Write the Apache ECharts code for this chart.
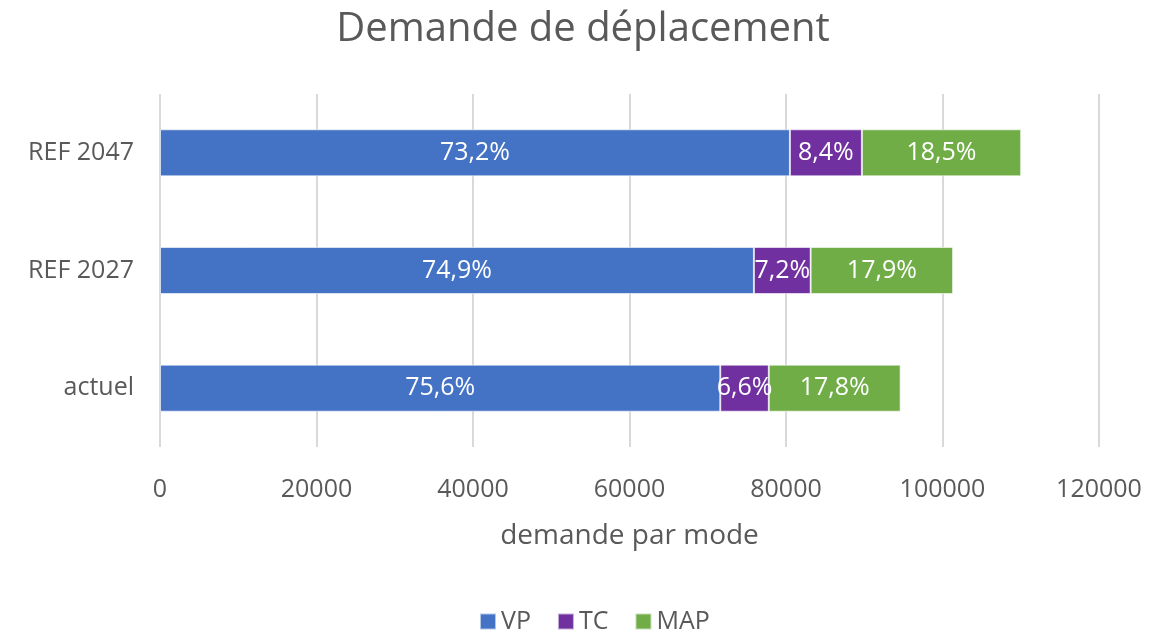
<!DOCTYPE html>
<html>
<head>
<meta charset="utf-8">
<script src="https://cdn.jsdelivr.net/npm/echarts@6/dist/echarts.min.js"></script>
<style>html,body{margin:0;padding:0;background:#fff}#c{width:1166px;height:632px}</style>
</head>
<body>
<div id="c"></div>
<script>
var categories = ['actuel', 'REF 2027', 'REF 2047'];
var seriesNames = ['VP', 'TC', 'MAP'];
var vpValues = [71600, 75900, 80500];
var tcValues = [6200, 7250, 9200];
var mapValues = [16850, 18200, 20350];
var vpLabels = ['75,6%', '74,9%', '73,2%'];
var tcLabels = ['6,6%', '7,2%', '8,4%'];
var mapLabels = ['17,8%', '17,9%', '18,5%'];
var colors = ['#4472C4', '#7030A0', '#70AD47'];

var FONT = 'Open Sans';
var TXT = '#595959';

function mk(name, vals, labels, color) {
  return {
    name: name, type: 'bar', stack: 'total', data: vals,
    barCategoryGap: '60%',
    itemStyle: { color: color, borderColor: 'rgba(255,255,255,0.6)', borderWidth: 1 },
    label: {
      show: true, position: 'inside', color: '#fff', fontFamily: FONT, fontSize: 25,
      formatter: function (p) { return labels[p.dataIndex]; }
    }
  };
}

var chart = echarts.init(document.getElementById('c'));
chart.setOption({
  animation: false,
  color: colors,
  title: {
    text: 'Demande de déplacement', left: 'center', top: 5,
    textStyle: { fontFamily: FONT, fontSize: 40, fontWeight: 'normal', color: TXT }
  },
  legend: {
    data: seriesNames, top: 604, left: 474, icon: 'rect',
    itemWidth: 16, itemHeight: 16, itemGap: 26,
    textStyle: { fontFamily: FONT, fontSize: 25, color: TXT }
  },
  grid: { left: 160, right: 67, top: 94, bottom: 185, containLabel: false },
  xAxis: {
    type: 'value', min: 0, max: 120000, interval: 20000,
    name: 'demande par mode', nameLocation: 'middle', nameGap: 75,
    nameTextStyle: { fontFamily: FONT, fontSize: 28, color: TXT },
    axisLine: { show: false }, axisTick: { show: false },
    axisLabel: { fontFamily: FONT, fontSize: 25, color: TXT, margin: 30,
      formatter: function (v) { return String(v); } },
    splitLine: { lineStyle: { color: '#d9d9d9', width: 2 } }
  },
  yAxis: {
    type: 'category', data: categories,
    axisLine: { show: false }, axisTick: { show: false },
    axisLabel: { fontFamily: FONT, fontSize: 25, color: TXT, margin: 26 }
  },
  series: [
    mk(seriesNames[0], vpValues, vpLabels, colors[0]),
    mk(seriesNames[1], tcValues, tcLabels, colors[1]),
    mk(seriesNames[2], mapValues, mapLabels, colors[2])
  ]
});
</script>
</body>
</html>
